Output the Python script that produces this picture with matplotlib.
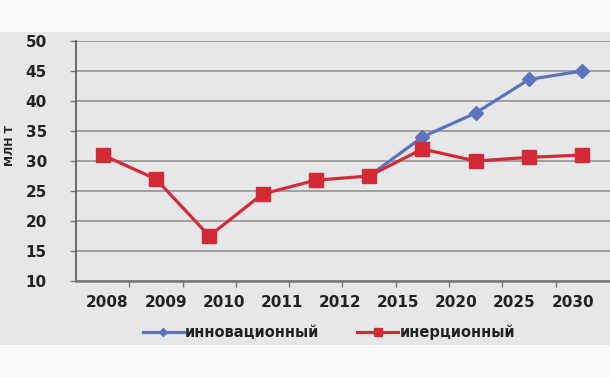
import numpy as np
import matplotlib.pyplot as plt
from matplotlib.patches import Rectangle

# 10 data points, 9 year labels (as in the source picture)
years = ['2008', '2009', '2010', '2011', '2012', '2015', '2020', '2025', '2030']
innov = [np.nan, np.nan, np.nan, np.nan, np.nan, 27.5, 34.0, 38.0, 43.6, 45.0]
inert = [31.0, 27.0, 17.5, 24.5, 26.8, 27.5, 32.0, 30.0, 30.6, 31.0]

plt.rcParams['font.family'] = ['DejaVu Sans']
plt.rcParams['font.weight'] = 'bold'

fig = plt.figure(figsize=(6.1, 3.77), dpi=100)
fig.patch.set_facecolor('#f9fafb')
band = Rectangle((0, 32/377), 1, 313/377, transform=fig.transFigure,
                 facecolor='#e6e7e9', edgecolor='none', zorder=-10)
fig.add_artist(band)

ax = fig.add_axes([76/610, 1-281/377, 534/610, 240/377])
ax.set_zorder(1)
ax.set_facecolor('#e6e7e9')
x = np.arange(len(inert))
ax.plot(x, innov, color='#5d74bd', lw=2.3, marker='D', markersize=7.5, label='инновационный', zorder=3)
ax.plot(x, inert, color='#d42a38', lw=2.3, marker='s', markersize=10.5, label='инерционный', zorder=4)

ax.set_xlim(-0.5, 9.52)
ax.set_ylim(10, 50)
ax.set_yticks(np.arange(10, 51, 5))
ax.grid(axis='y', color='#9a9a9a', lw=1.3)
ax.set_axisbelow(True)
for s in ['top', 'right']:
    ax.spines[s].set_visible(False)
ax.spines['left'].set_color('#555555')
ax.spines['left'].set_linewidth(1.2)
ax.spines['bottom'].set_color('#777777')
ax.spines['bottom'].set_linewidth(1.8)

ax.set_xticks(np.arange(0.5, 9.0, 1.0))
ax.set_xticklabels([])
ax.tick_params(axis='x', direction='out', length=4, color='#777777', width=1)
ax.tick_params(axis='y', direction='out', length=4, color='#777777', width=1,
               labelsize=11, pad=17, labelcolor='#222222')
for pos, lab in zip(np.linspace(0.09, 8.82, len(years)), years):
    ax.text(pos, -0.06, lab, transform=ax.get_xaxis_transform(), ha='center', va='top',
            fontsize=11, fontweight='bold', color='#222222')

# y-axis title
fig.text(10/610, 1-145/377, 'МЛН Т', rotation=90, ha='center', va='center',
         fontsize=8, fontweight='bold', color='#222222')

leg = ax.legend(loc='center', bbox_to_anchor=(329/610, 1-332/377), bbox_transform=fig.transFigure,
                ncol=2, frameon=False, fontsize=10.5, handlelength=2.8, handletextpad=0.1,
                columnspacing=2.6, markerscale=0.55, numpoints=1)
for t in leg.get_texts():
    t.set_color('#222222')

fig.savefig('out.png', dpi=100, facecolor=fig.get_facecolor())
